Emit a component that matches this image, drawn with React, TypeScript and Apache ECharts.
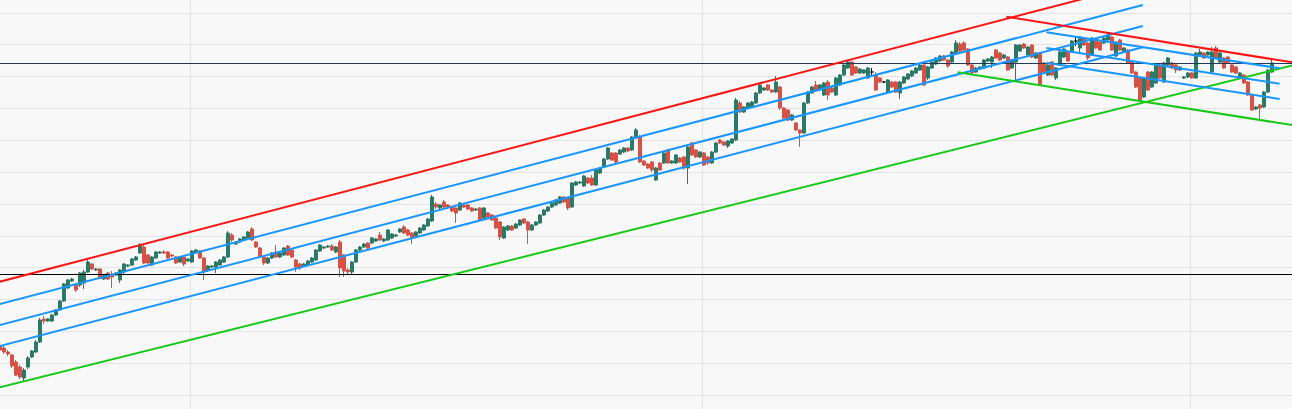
import React, { useEffect, useRef } from 'react';
import * as echarts from 'echarts';

// Candles as [open, close, low, high], indices 0..318
const candlesA = [
  [154,150,148,156],[152,148,146,154],[148,146,144,150],[145,134,132,146],[138,125,124,140],
  [133,123,121,135],[122,130,119,132],[133,142,131,144],[143,149,142,150],[148,158,147,160],
  [158,180,157,182],[181,179,176,184],[179,181,178,182],[179,185,178,186],[185,190,184,191],
  [190,199,189,200],[199,216,198,217],[212,220,211,221],[219,221,218,222],[215,210,208,217],
  [215,227,213,228],[217,228,211,230],[228,238,227,240],[236,231,230,237],[230,231,229,232],
  [231,222,221,232],[221,225,220,226],[227,221,220,228],[226,223,212,229],[225,227,224,228],
  [220,230,217,231],[228,236,226,237],[234,235,233,236],[235,241,234,242],[240,243,239,244],
  [247,255,246,257],[253,237,236,255],[245,237,236,246],[235,243,234,244],[242,248,241,249],
  [247,248,246,249],[248,247,246,250],[248,242,241,249],[245,244,243,246],[243,237,236,244],
  [238,243,237,244],[243,236,234,244],[239,241,238,242],[238,249,237,250],[248,250,247,251],
  [249,242,241,250],[242,228,220,243],[230,234,228,235],[233,234,232,235],[233,238,227,239],
  [235,240,234,241],[238,243,237,244],[243,267,242,269]
];
const candlesB = [
  [265,260,258,267],[256,258,255,259],[258,261,257,262],[260,263,259,264],[262,268,261,269],
  [271,260,259,273],[258,253,252,259],[252,243,242,253],[243,237,235,244],[237,242,236,243],
  [242,247,241,248],[248,243,242,255],[243,247,242,248],[245,252,244,253],[254,245,244,255],
  [250,243,242,251],[240,233,228,241],[236,232,230,237],[234,236,233,237],[235,239,234,240],
  [238,242,237,243],[240,250,239,251],[249,255,248,256],[252,253,251,254],[253,254,252,255],
  [254,250,249,256],[248,253,247,254],[258,232,223,260],[245,229,223,246],[230,228,226,232],
  [228,238,226,239],[238,250,237,251],[250,253,249,254],[253,256,252,257],[257,252,251,258],
  [257,262,256,263],[259,261,258,262],[265,260,259,268],[259,261,258,262],[260,270,259,271],
  [262,266,261,267],[264,265,263,266],[268,271,267,272],[273,267,266,275],[270,265,264,271],
  [267,262,256,268],[264,268,263,269],[267,272,266,273],[270,275,269,276],[274,281,273,282],
  [279,303,278,305]
];
const candlesC = [
  [296,293,291,298],[292,295,291,296],[298,293,292,300],[295,293,291,296],[293,289,288,294],
  [292,287,277,293],[290,297,289,298],[295,293,292,296],[295,291,290,296],[292,289,288,293],
  [290,291,289,292],[292,280,279,293],[282,292,281,293],[287,283,282,288],[285,280,279,286],
  [282,272,271,283],[278,263,260,279],[262,273,261,274],[270,274,269,275],[274,270,269,275],
  [272,276,271,277],[275,280,274,281],[281,277,276,282],[278,270,256,279],[270,275,269,276],
  [275,278,274,279],[277,285,276,286],[285,290,284,291],[289,293,288,294],[293,297,292,298],
  [295,300,294,301],[297,303,296,304],[303,298,297,304],[302,292,290,303],[293,317,292,318],
  [315,318,314,319],[317,318,316,319],[314,324,313,325],[322,317,316,323],[322,315,314,325],
  [315,330,314,331],[327,332,326,333],[333,341,332,342],[341,352,340,353],[347,340,339,348],
  [347,338,337,348],[346,350,345,351],[348,352,347,353],[352,349,348,353],[350,363,349,364],
  [362,370,361,372]
];
const candlesD = [
  [363,338,337,365],[339,335,334,340],[336,332,331,337],[338,330,328,339],[320,332,319,333],
  [337,330,329,338],[337,347,336,348],[350,337,336,351],[337,339,336,340],[337,345,336,346],
  [342,338,337,343],[343,332,330,344],[332,353,316,355],[357,345,344,358],[350,343,342,351],
  [343,348,342,349],[347,335,334,348],[343,337,335,344],[337,348,336,349],[348,357,347,358],
  [360,357,356,361],[358,355,354,359],[354,359,352,360],[357,361,356,362],[360,400,359,402],
  [397,388,387,399],[388,393,387,394],[392,397,391,398],[393,398,392,399],[397,407,396,408],
  [407,415,406,416],[410,412,409,413],[415,410,409,416],[410,408,407,411],[408,418,407,424],
  [413,392,390,414],[392,382,381,393],[390,380,379,391],[380,385,379,386],[377,370,369,378],
  [370,367,353,371],[367,397,366,398],[397,408,396,409],[407,413,406,414],[415,409,408,419],
  [410,415,409,416],[405,417,404,418],[418,405,400,420],[412,408,407,413],[405,422,404,423],
  [415,425,414,426],[425,435,424,436],[432,438,431,440],[438,425,424,439],[433,427,426,434],
  [427,431,426,432],[427,430,426,431],[422,432,421,433],[428,428,424,432],[425,410,409,428],
  [422,418,417,423],[418,418,417,419],[408,420,407,421],[418,413,412,419],[418,408,407,419]
];
const candlesE = [
  [407,418,401,419],[417,423,416,424],[421,426,420,427],[424,429,423,430],[427,432,426,433],
  [430,435,429,436],[435,415,414,436],[422,433,420,434],[432,438,431,439],[436,442,435,443],
  [439,444,438,445],[444,440,439,445],[440,434,432,441],[438,448,437,449],[447,457,446,460],
  [456,449,448,458],[457,450,448,459],[451,435,434,452],[435,427,426,436],[428,432,427,433],
  [431,433,430,434],[432,440,431,441],[439,441,438,442],[438,443,432,444],[450,442,441,451],
  [447,440,439,448],[442,445,441,446],[443,430,429,444],[432,440,431,441],[438,455,420,456],
  [449,455,448,456],[456,452,451,457],[445,453,444,454],[455,443,442,456],[442,447,441,448],
  [447,415,414,448],[437,428,427,438],[425,435,424,436],[438,425,424,439],[422,432,420,433],
  [435,448,434,449],[443,451,442,452],[448,439,438,449],[448,459,447,460],[459,459,454,464]
];
const candlesF = [
  [452,463,448,464],[462,455,454,463],[457,442,440,458],[445,462,444,463],[460,452,451,461],
  [458,450,449,459],[457,462,456,463],[460,465,459,467],[463,450,449,464],[444,458,443,459],
  [460,450,449,461],[448,452,447,453],[450,437,436,451],[438,427,426,439],[428,413,412,429],
  [422,400,399,423],[403,422,402,423],[428,410,409,429],[413,428,412,429],[417,435,416,436],
  [435,422,421,436],[418,437,417,438],[435,442,434,443],[437,432,431,438],[435,430,427,436],
  [430,433,429,434],[422,423,421,424],[423,427,422,428],[427,422,421,428],[422,447,421,448],
  [445,448,444,451],[447,442,441,448],[445,448,444,449],[428,448,427,453],[452,442,441,454],
  [438,447,437,448],[442,432,431,443],[443,437,436,444],[435,428,427,436],[433,427,426,434],
  [423,427,422,428],[425,417,416,426],[418,405,404,419],[405,390,389,406],[391,393,390,394],
  [395,392,379,396],[393,408,392,409],[408,430,407,431],[428,437,427,440]
];
const candles = [...candlesA, ...candlesB, ...candlesC, ...candlesD, ...candlesE, ...candlesF];

const SLOT_COUNT = 324;
const categories = Array.from({ length: SLOT_COUNT }, (_, i) => String(i));
const verticalGridAt = [48, 176, 298];

// Drawn lines as [candle index, price] end points
const bigTop = [[-1, 217.3], [275, 505.6]];
const bigUpper = [[-1, 195.0], [285.7, 495]];
const bigMid = [[-1, 174.0], [285.7, 474]];
const bigLower = [[-1, 153.0], [285.9, 453]];
const bigBottom = [[-1, 111.8], [325, 436.5]];
const smallTop = [[251.6, 483.3], [325, 436.4]];
const smallUpper = [[261.6, 467.7], [319.9, 431.7]];
const smallMid = [[261.6, 452.0], [319.9, 416.3]];
const smallLower = [[261.6, 437.3], [319.9, 401.0]];
const smallBottom = [[239.4, 427.7], [325, 373.7]];
const levelHigh = [[-1, 436.5], [325, 436.5]];
const levelLow = [[-1, 225.5], [325, 225.5]];

const RED = '#ff1414';
const BLUE = '#1896ff';
const GREEN = '#17c917';

const seg = (name: string, data: number[][], color: string, width: number, z = 5) => ({
  name,
  type: 'line',
  xAxisIndex: 1,
  yAxisIndex: 0,
  data,
  symbol: 'none',
  showSymbol: false,
  silent: true,
  clip: true,
  z,
  lineStyle: { color, width },
});

const option = {
  animation: false,
  backgroundColor: '#f8f8f8',
  grid: { left: 0, right: 0, top: 0, bottom: 0, containLabel: false },
  xAxis: [
    {
      type: 'category',
      data: categories,
      boundaryGap: true,
      axisLine: { show: false },
      axisTick: { show: false },
      axisLabel: { show: false },
      splitLine: {
        show: true,
        interval: (i: number) => verticalGridAt.includes(i),
        lineStyle: { color: '#e2e2e2', width: 1 },
      },
    },
    { type: 'value', min: -0.5, max: 323.5, show: false, splitLine: { show: false } },
  ],
  yAxis: [
    { type: 'value', min: 73, max: 519, show: false, splitLine: { show: false } },
    {
      type: 'value',
      min: 0,
      max: 14,
      interval: 1,
      axisLine: { show: false },
      axisTick: { show: false },
      axisLabel: { show: false },
      splitLine: { show: true, lineStyle: { color: '#e4e4e4', width: 1 } },
    },
  ],
  series: [
    {
      type: 'candlestick',
      xAxisIndex: 0,
      yAxisIndex: 0,
      data: candles,
      barWidth: 2.6,
      z: 2,
      itemStyle: {
        color: '#2b7a67',
        color0: '#d75145',
        borderColor: '#2b7a67',
        borderColor0: '#d75145',
        borderColorDoji: '#111111',
        borderWidth: 1,
      },
    },
    seg('levelLow', levelLow, '#000000', 1, 4),
    seg('levelHigh', levelHigh, '#26385a', 1, 4),
    seg('bigTop', bigTop, RED, 2),
    seg('bigUpper', bigUpper, BLUE, 2),
    seg('bigMid', bigMid, BLUE, 2),
    seg('bigLower', bigLower, BLUE, 2),
    seg('bigBottom', bigBottom, GREEN, 2),
    seg('smallTop', smallTop, RED, 2),
    seg('smallUpper', smallUpper, BLUE, 2),
    seg('smallMid', smallMid, BLUE, 2),
    seg('smallLower', smallLower, BLUE, 2),
    seg('smallBottom', smallBottom, GREEN, 2),
  ],
};

export default function App() {
  const ref = useRef<HTMLDivElement>(null);
  useEffect(() => {
    document.documentElement.style.overflow = 'hidden';
    document.body.style.margin = '0';
    document.body.style.overflow = 'hidden';
    document.body.style.background = '#f8f8f8';
    const chart = echarts.init(ref.current as HTMLDivElement, null, { renderer: 'svg' });
    chart.setOption(option as any);
    return () => chart.dispose();
  }, []);
  return (
    <div style={{ position: 'relative', width: 1292, height: 409, overflow: 'hidden', background: '#f8f8f8' }}>
      <div ref={ref} style={{ position: 'absolute', left: -2, top: -19, width: 1296, height: 446 }} />
    </div>
  );
}
